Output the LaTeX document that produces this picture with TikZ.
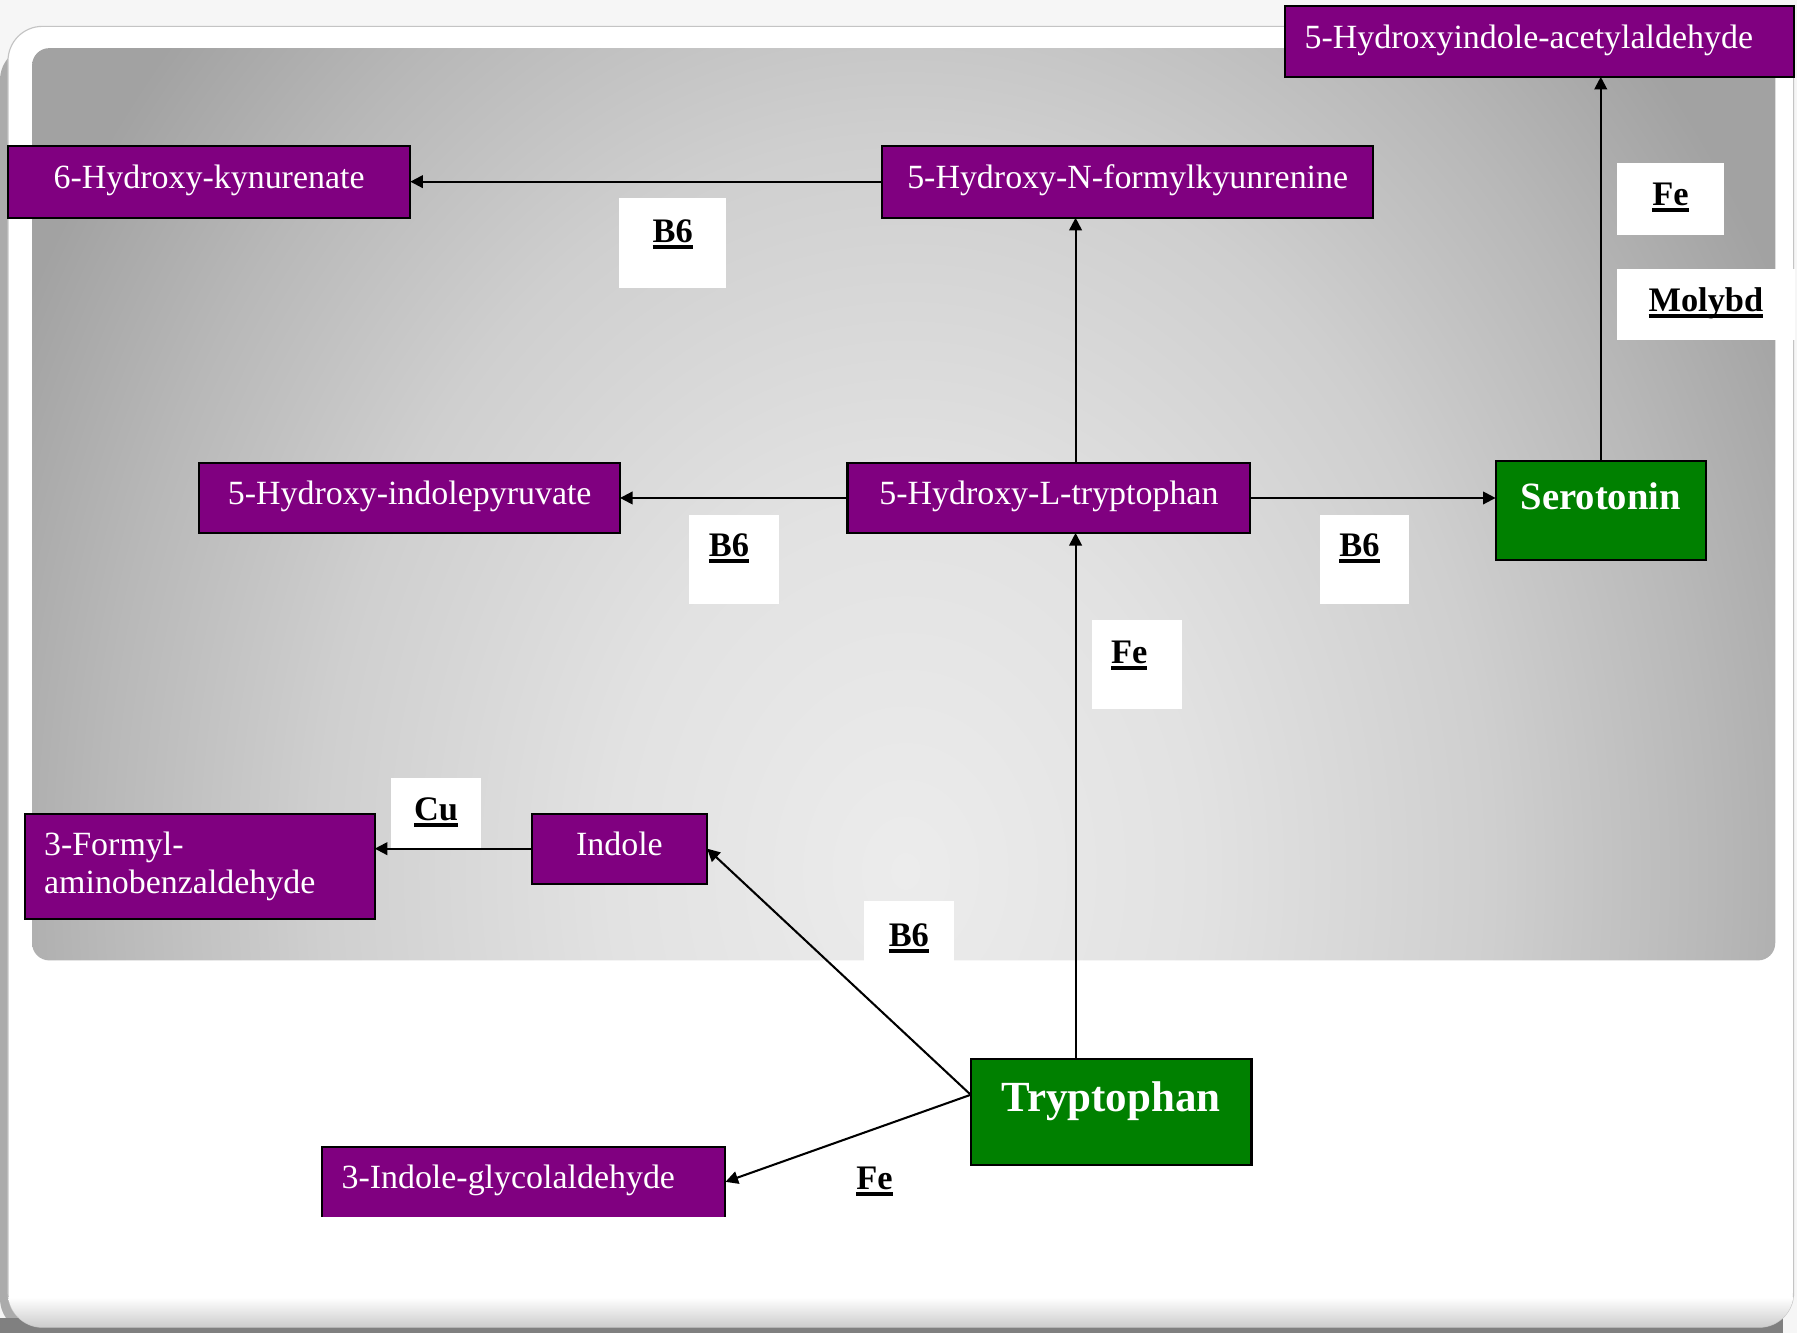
\documentclass[tikz,border=0pt]{standalone}
\usepackage{fontspec}
\setmainfont{Liberation Serif}
\usetikzlibrary{arrows.meta}
\definecolor{pur}{HTML}{800080}
\definecolor{grn}{HTML}{008000}
\definecolor{pagebg}{HTML}{F6F6F6}
\definecolor{shdA}{HTML}{ABABAB}
\definecolor{shdB}{HTML}{808080}
\definecolor{frameline}{HTML}{C4C4C4}
\definecolor{bgA}{HTML}{ECECEC}
\definecolor{bgB}{HTML}{E2E2E2}
\definecolor{bgC}{HTML}{CFCFCF}
\definecolor{bgD}{HTML}{B8B8B8}
\definecolor{bgE}{HTML}{A2A2A2}
\pgfdeclareradialshading{bgsh}{\pgfpointorigin}{color(0bp)=(bgA); color(8bp)=(bgB); color(16bp)=(bgC); color(22bp)=(bgD); color(27bp)=(bgE); color(50bp)=(bgE)}
\newcommand\myul[1]{\setbox0=\hbox{#1}\rlap{\rule[-5.9pt]{\wd0}{3.5pt}}\box0}
\tikzset{
  pbox/.style={draw=black, line width=1.8pt, fill=pur, text=white, inner sep=0pt, outer sep=0pt,
    font=\fontsize{29.6}{33.3}\selectfont, text height=20.7pt, text depth=8.9pt, anchor=north west},
  fbox/.style={draw=black, line width=1.8pt, fill=pur, text=white, inner sep=0pt, outer sep=0pt,
    font=\fontsize{29.6}{33.3}\selectfont, anchor=north west, align=left},
  gbox/.style={draw=black, line width=1.8pt, fill=grn, text=white, inner sep=0pt, outer sep=0pt, anchor=north west},
  lbl/.style={fill=white, inner sep=0pt, outer sep=0pt, anchor=north west, font=\bfseries\fontsize{30}{34}\selectfont},
  arr/.style={line width=1.8pt, -{Triangle[length=11pt,width=11pt]}},
}
\begin{document}
\begin{tikzpicture}[x=1pt,y=-1pt]
\useasboundingbox (0,0) rectangle (1568,1163);
% page and frame
\fill[pagebg] (0,0) rectangle (1568,1163);
\fill[shdA, rounded corners=30pt] (0,40) rectangle (1558,1163);
\fill[shdB] (0,1150) rectangle (1556,1163);
\path[fill=white, draw=frameline, line width=1pt, rounded corners=30pt] (7,23) rectangle (1565,1158);
\begin{scope}
  \clip[rounded corners=30pt] (7,23) rectangle (1565,1158);
  \shade[top color=white, bottom color=shdA!60] (7,1132) rectangle (1565,1158);
\end{scope}
% inner gradient panel
\begin{scope}
  \clip[rounded corners=15pt] (28,42) rectangle (1549,838);
  \shade[shading=bgsh] (-10,-240) rectangle (1590,1760);
\end{scope}

% label boxes
\node[lbl, minimum width=93pt, text height=38.4pt, text depth=39.6pt] (b6a) at (540.5,173) {\myul{B6}};
\node[lbl, minimum width=93pt, text height=37.5pt, text depth=25.5pt] (fea) at (1411,142) {\myul{Fe}};
\node[lbl, minimum width=155pt, text height=37.5pt, text depth=25pt] (mol) at (1411,234.5) {\myul{Molybd}};
\node[lbl, minimum width=78pt, text height=36.5pt, text depth=41.5pt] (b6b) at (601.5,449) {\myul{B6}\kern9pt};
\node[lbl, minimum width=77.5pt, text height=36.5pt, text depth=41.5pt] (b6c) at (1151.5,449) {\myul{B6}\kern8pt};
\node[lbl, minimum width=78.5pt, text height=37.8pt, text depth=39.7pt] (feb) at (952.5,541) {\myul{Fe}\kern13pt};
\node[lbl, minimum width=78pt, text height=37pt, text depth=24pt] (cu) at (341.5,679) {\myul{Cu}};
\node[lbl, minimum width=78pt, text height=40pt, text depth=37pt] (b6d) at (754,786) {\myul{B6}};
\node[lbl, minimum width=78pt, text height=37.5pt, text depth=39.5pt] (fec) at (724,1000) {\myul{Fe}};

% compound boxes
\node[pbox, minimum width=444pt, minimum height=62pt] (haa) at (1121,5) {5-Hydroxyindole-acetylaldehyde\kern18pt};
\node[pbox, minimum width=351pt, minimum height=63pt] (hk) at (7,127) {6-Hydroxy-kynurenate};
\node[pbox, minimum width=428pt, minimum height=63pt] (hnf) at (770,127) {5-Hydroxy-N-formylkyunrenine};
\node[pbox, minimum width=367pt, minimum height=61pt] (hip) at (174,404) {5-Hydroxy-indolepyruvate};
\node[pbox, minimum width=351.5pt, minimum height=61pt] (hlt) at (739.5,404) {5-Hydroxy-L-tryptophan};
\node[gbox, minimum width=183.5pt, text height=42pt, text depth=44pt, font=\bfseries\fontsize{33.7}{38}\selectfont] (ser) at (1305,402.5) {Serotonin};
\node[pbox, minimum width=153pt, minimum height=61pt] (ind) at (464,710) {Indole};
\node[fbox, minimum width=305.5pt, minimum height=92pt, text width=271.5pt] (form) at (21.5,710) {3-Formyl-\\aminobenzaldehyde};
\node[gbox, minimum width=245pt, text height=46pt, text depth=46.5pt, font=\bfseries\fontsize{37.5}{42}\selectfont] (trp) at (847,924) {Tryptophan};
\node[pbox, draw=none, minimum width=352pt, minimum height=60.5pt] (gly) at (281,1001) {3-Indole-glycolaldehyde\kern27pt};
\draw[line width=1.8pt] (gly.south west) -- (gly.north west) -- (gly.north east) -- (gly.south east);

% connectors
\coordinate (vx) at (938.5,0);
\coordinate (tw) at ([yshift=15pt]trp.west);
\draw[arr] (hnf.west) -- (hk.east);
\draw[arr] (vx |- hlt.north) -- (vx |- hnf.south);
\draw[arr] (hlt.west) -- (hip.east);
\draw[arr] (hlt.east) -- (ser.west |- hlt.east);
\draw[arr] (ser.north) -- (ser.north |- haa.south);
\draw[arr] (vx |- trp.north) -- (vx |- hlt.south);
\draw[arr] (ind.west) -- (form.east |- ind.west);
\draw[arr] (tw) -- (ind.east);
\draw[arr] (tw) -- (gly.east);
\end{tikzpicture}
\end{document}
